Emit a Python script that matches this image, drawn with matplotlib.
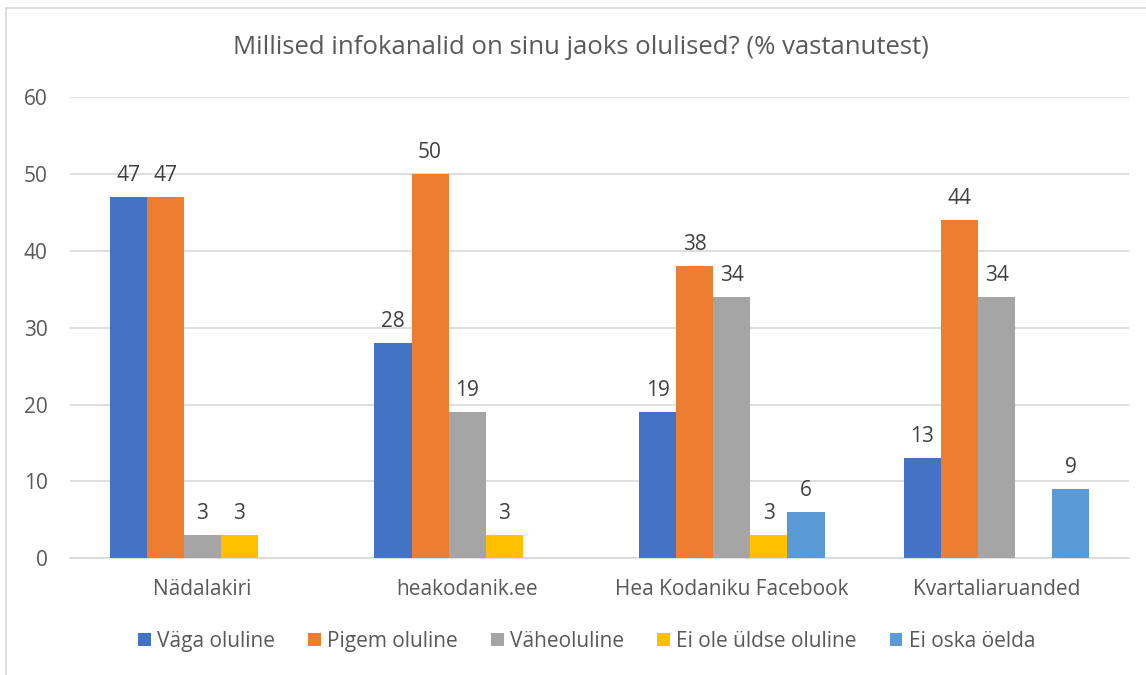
import numpy as np
import matplotlib.pyplot as plt
from matplotlib.patches import Rectangle

plt.rcParams['font.family'] = ['Open Sans', 'DejaVu Sans']

categories = ['Nädalakiri', 'heakodanik.ee', 'Hea Kodaniku Facebook', 'Kvartaliaruanded']
series_names = ['Väga oluline', 'Pigem oluline', 'Väheoluline', 'Ei ole üldse oluline', 'Ei oska öelda']
vaga = [47, 28, 19, 13]
pigem = [47, 50, 38, 44]
vahe = [3, 19, 34, 34]
ei_ole = [3, 3, 3, np.nan]
ei_oska = [np.nan, np.nan, 6, 9]
colors = ['#4472C4', '#ED7D31', '#A5A5A5', '#FFC000', '#5B9BD5']

series = [vaga, pigem, vahe, ei_ole, ei_oska]

fig = plt.figure(figsize=(11.46, 6.75), dpi=100)
ax = fig.add_axes([70 / 1146, 0.173, 1059 / 1146, 0.683])

# chart frame (cut off at right and bottom, like the screenshot)
fig.patches.append(Rectangle((6 / 1146, -0.1), 1.2, 1 - 8 / 675 + 0.1,
                             transform=fig.transFigure, fill=False,
                             edgecolor='#d9d9d9', linewidth=1.2))

x = np.arange(len(categories))
w = 0.14
for j, (vals, name, c) in enumerate(zip(series, series_names, colors)):
    vals = np.array(vals, dtype=float)
    pos = x + (j - 2) * w
    ax.bar(pos, vals, width=w, color=c, label=name, zorder=3)
    for px, v in zip(pos, vals):
        if not np.isnan(v):
            ax.annotate(f'{v:.0f}', (px, v), xytext=(0, 8), textcoords='offset points',
                        ha='center', va='bottom', fontsize=15, color='#404040')

ax.set_xlim(-0.5, len(categories) - 0.5)
ax.set_ylim(0, 60)
ax.set_yticks(range(0, 61, 10))
ax.grid(axis='y', color='#d9d9d9', linewidth=1.2, zorder=0)
for s in ['top', 'right', 'left']:
    ax.spines[s].set_visible(False)
ax.spines['bottom'].set_color('#d9d9d9')
ax.spines['bottom'].set_linewidth(1.2)
ax.tick_params(axis='both', length=0, labelsize=15, labelcolor='#595959')
ax.tick_params(axis='x', pad=15)
ax.tick_params(axis='y', pad=16)
ax.set_xticks(x)
ax.set_xticklabels(categories)

fig.text(0.507, 0.93, 'Millised infokanalid on sinu jaoks olulised? (% vastanutest)',
         ha='center', va='center', fontsize=18.5, color='#595959')

fig.legend(loc='center', bbox_to_anchor=(0.512, 0.05), ncol=5, frameon=False,
           fontsize=15, labelcolor='#595959', handlelength=0.6, handleheight=0.6,
           handletextpad=0.3, columnspacing=1.6)

fig.savefig('out.png', dpi=100)
